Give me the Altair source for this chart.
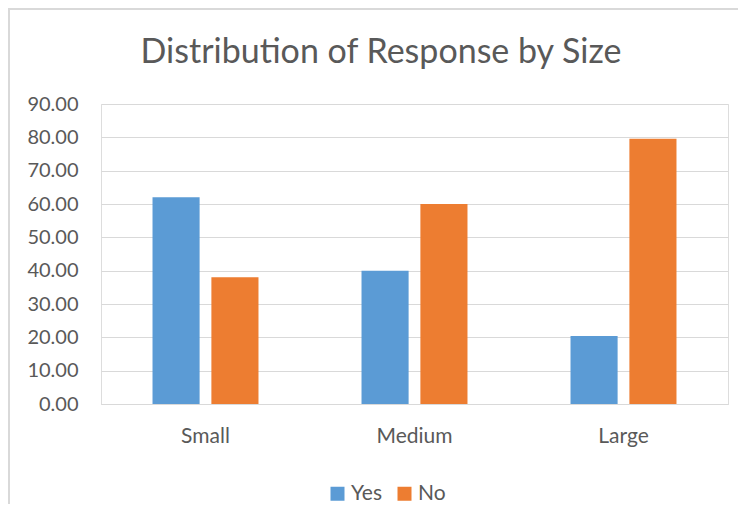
import altair as alt
import pandas as pd

sizes = ["Small", "Medium", "Large"]
responses = ["Yes", "No"]
yes_values = [62.0, 40.0, 20.4]
no_values = [38.0, 60.0, 79.6]
y_ticks = [0, 10, 20, 30, 40, 50, 60, 70, 80, 90]
colors = ["#5B9BD5", "#ED7D31"]
title_text = "Distribution of Response by Size"

rows = []
for s, yv, nv in zip(sizes, yes_values, no_values):
    rows.append({"Size": s, "Response": "Yes", "Value": yv})
    rows.append({"Size": s, "Response": "No", "Value": nv})
df = pd.DataFrame(rows)

FONT = "Lato"
TXT = "#595959"

bars = alt.Chart(df).mark_bar().encode(
    x=alt.X("Size:N", sort=sizes, title=None,
            scale=alt.Scale(paddingInner=0.493, paddingOuter=0.2465),
            axis=alt.Axis(labelAngle=0, ticks=False, domain=True, domainColor="#D9D9D9",
                          domainWidth=1, labelFontSize=21, labelColor=TXT, labelFont=FONT,
                          labelPadding=21, grid=False)),
    xOffset=alt.XOffset("Response:N", sort=responses,
                        scale=alt.Scale(paddingInner=0.2, paddingOuter=0)),
    y=alt.Y("Value:Q", title=None,
            scale=alt.Scale(domain=[0, 90], nice=False),
            axis=alt.Axis(values=y_ticks, format=".2f", ticks=False, domain=False,
                          gridColor="#D9D9D9", gridWidth=1, labelFontSize=20,
                          labelColor=TXT, labelFont=FONT, labelPadding=23)),
    color=alt.Color("Response:N", sort=responses,
                    scale=alt.Scale(domain=responses, range=colors),
                    legend=alt.Legend(title=None, orient="none", direction="horizontal",
                                      legendX=226, legendY=379, symbolType="square",
                                      symbolSize=196, symbolStrokeWidth=0,
                                      labelFontSize=21, labelColor=TXT, labelFont=FONT,
                                      labelOffset=3, columnPadding=12)),
)

title = alt.Chart(pd.DataFrame({"t": [title_text]})).mark_text(
    font=FONT, fontSize=34, color=TXT, align="center", baseline="alphabetic"
).encode(text="t:N", x=alt.value(280), y=alt.value(-41))

top_line = alt.Chart(df).mark_rule(color="#D9D9D9", strokeWidth=2).encode(
    x=alt.value(-93), x2=alt.value(660), y=alt.value(-95), y2=alt.value(-95)
)
left_line = alt.Chart(df).mark_rule(color="#D9D9D9", strokeWidth=2).encode(
    x=alt.value(-92), x2=alt.value(-92), y=alt.value(-96), y2=alt.value(420)
)

chart = alt.layer(bars, title, top_line, left_line).properties(
    width=627, height=300,
    autosize=alt.AutoSizeParams(type="none"),
    padding={"left": 93, "top": 96, "right": 10, "bottom": 100},
).configure_view(strokeWidth=0, stroke="transparent").configure(background="white")

chart.save("out.html", embed_options={"renderer": "svg", "actions": False})
